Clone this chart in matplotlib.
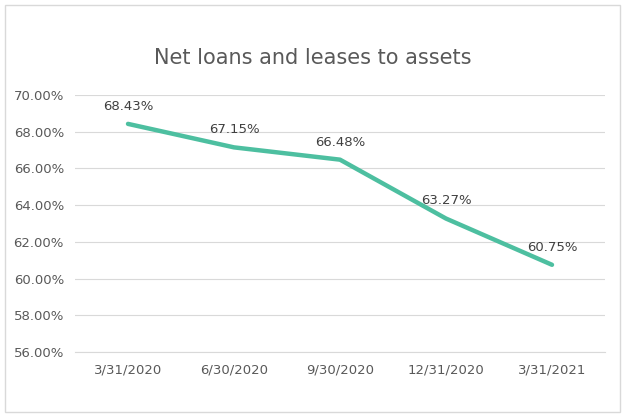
import matplotlib
matplotlib.use("Agg")
import matplotlib.pyplot as plt
from matplotlib.patches import Rectangle

categories = ["3/31/2020", "6/30/2020", "9/30/2020", "12/31/2020", "3/31/2021"]
values = [68.43, 67.15, 66.48, 63.27, 60.75]
yticks = [56, 58, 60, 62, 64, 66, 68, 70]

fig = plt.figure(figsize=(6.25, 4.17), dpi=100)
fig.patches.append(Rectangle((0.008, 0.012), 0.984, 0.976, transform=fig.transFigure,
                             fill=False, edgecolor="#d9d9d9", linewidth=1))
ax = fig.add_axes([0.12, 0.156, 0.848, 0.616])
x = range(len(categories))
ax.plot(x, values, color="#4DBFA0", linewidth=3.2, solid_capstyle="round")
for xi, v in zip(x, values):
    ax.annotate(f"{v:.2f}%", (xi, v), xytext=(0, 8), textcoords="offset points",
                ha="center", va="bottom", fontsize=9.5, color="#404040")
ax.set_xlim(-0.5, len(categories) - 0.5)
ax.set_ylim(56, 70)
ax.set_yticks(yticks)
ax.set_yticklabels([f"{t:.2f}%" for t in yticks], fontsize=9.5, color="#595959")
ax.set_xticks(list(x))
ax.set_xticklabels(categories, fontsize=9.5, color="#595959")
ax.grid(axis="y", color="#d9d9d9", linewidth=0.8)
ax.set_axisbelow(True)
for s in ["top", "right", "left"]:
    ax.spines[s].set_visible(False)
ax.spines["bottom"].set_color("#d9d9d9")
ax.tick_params(length=0, pad=8)
fig.text(0.5, 0.86, "Net loans and leases to assets", ha="center", va="center",
         fontsize=15, color="#595959")
fig.savefig("out.png", dpi=100)
